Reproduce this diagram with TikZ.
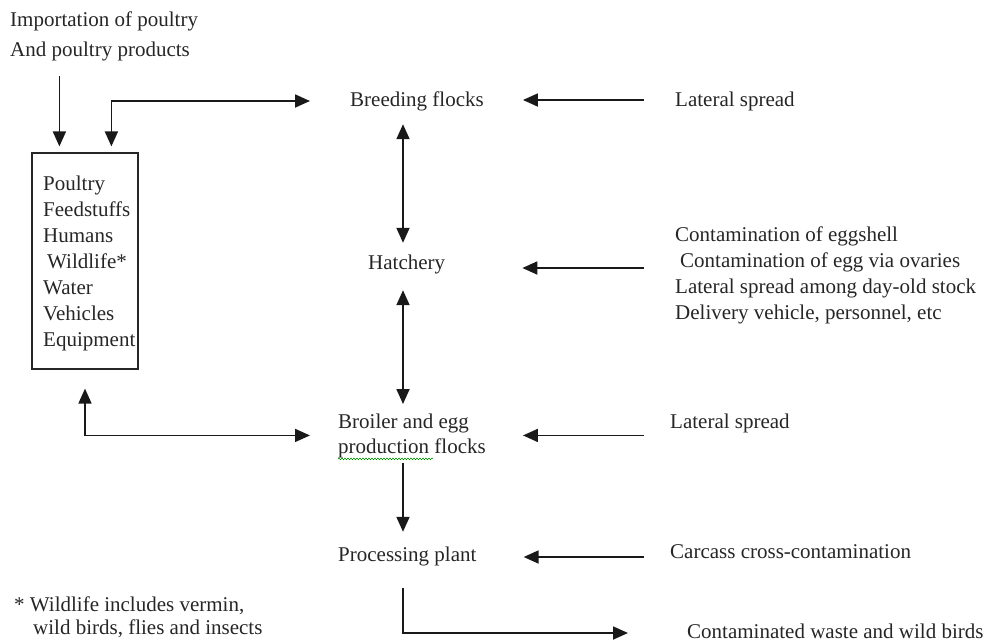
\documentclass[tikz,border=0pt]{standalone}
\usepackage{fontspec}
\setmainfont{Liberation Serif}
\usetikzlibrary{arrows.meta,calc,decorations.pathmorphing}
\newcommand{\firststrut}{\rule{0pt}{15pt}}
\begin{document}
\begin{tikzpicture}[x=1pt,y=-1pt,
  txt/.style={font=\fontsize{21}{26}\selectfont, inner sep=0pt, text height=14pt, text depth=4pt, text=black!85},
  mtxt/.style={font=\fontsize{21}{26}\selectfont, inner sep=0pt, text=black!85, anchor=north west, align=left},
  arr/.style={draw=black!90, line width=1.8pt, -{Triangle[length=15pt,width=13pt]}},
  arrtwo/.style={draw=black!90, line width=1.8pt, {Triangle[length=15pt,width=13pt]}-{Triangle[length=15pt,width=13pt]}},
  framebox/.style={draw=black!85, line width=1.2pt, minimum width=106pt, minimum height=216pt, inner sep=0pt}]
\useasboundingbox (0,0) rectangle (991,643);
% nodes
\node[mtxt, font=\fontsize{21}{30}\selectfont] (imp) at (10,11) {\firststrut Importation of poultry\\And poultry products};
\node[framebox] (box) at (85,261) {};
\node[mtxt] (items) at (43,175) {\firststrut Poultry\\Feedstuffs\\Humans\\\hspace{4pt}Wildlife*\\Water\\Vehicles\\Equipment};
\node[txt, anchor=west] (breed) at (350,101) {Breeding flocks};
\node[txt, anchor=west] (lat1) at (675,101) {Lateral spread};
\node[txt, anchor=west] (hatch) at (368,264) {Hatchery};
\node[mtxt] (contam) at (675,226) {\firststrut Contamination of eggshell\\\hspace{5pt}Contamination of egg via ovaries\\Lateral spread among day-old stock\\Delivery vehicle, personnel, etc};
\node[mtxt, font=\fontsize{21}{25}\selectfont] (broil) at (338,413) {\firststrut Broiler and egg\\production flocks};
\node[txt, anchor=west] (lat2) at (670,423) {Lateral spread};
\node[txt, anchor=west] (proc) at (338,556) {Processing plant};
\node[txt, anchor=west] (carc) at (670,553) {Carcass cross-contamination};
\node[txt, anchor=west] (foot1) at (14,606) {* Wildlife includes vermin,};
\node[txt, anchor=west] (foot2) at (33,629) {wild birds, flies and insects};
\node[txt, anchor=west] (waste) at (687,633) {Contaminated waste and wild birds};
% helper coordinates
\coordinate (c1) at ($(box.north west)+(28,0)$);
\coordinate (c2) at ($(box.north west)+(80,0)$);
\coordinate (v) at ($(breed.west)+(53,0)$);
% connectors
\draw[arr] ($(imp.south -| c1)+(0,15)$) -- ($(c1)+(0,-6)$);
\draw[arrtwo] ($(c2)+(0,-6)$) -- (c2 |- breed.west) -- ($(breed.west)+(-40,0)$);
\draw[arr] ($(lat1.west)+(-31,-1)$) -- ($(breed.east)+(39,-1)$);
\draw[arrtwo] ($(v |- breed.south)+(0,14)$) -- ($(v |- hatch.north)+(0,-12)$);
\draw[arr] ($(contam.west |- hatch.east)+(-31,4)$) -- ($(hatch.east)+(77,4)$);
\draw[arrtwo] ($(v |- hatch.south)+(0,17)$) -- ($(v |- broil.north)+(0,-9)$);
\draw[arrtwo] ($(box.south)+(0,19)$) -- (box.south |- broil.west) -- ($(broil.west)+(-28,0)$);
\draw[arr] ($(lat2.west |- broil.east)+(-26,0)$) -- ($(broil.east)+(37,0)$);
\draw[arr] ($(v |- broil.south)+(0,5)$) -- ($(v |- proc.north)+(0,-15)$);
\draw[arr] ($(carc.west |- proc.east)+(-26,1)$) -- ($(proc.east)+(47,1)$);
\draw[arr] ($(v |- proc.south)+(0,23)$) -- (v |- waste.west) -- ($(waste.west)+(-59,0)$);
% spell-check wavy underline
\draw[green!55!black, line width=0.6pt, decorate, decoration={snake, amplitude=0.8pt, segment length=3pt}] ($(broil.south west)+(0,1)$) -- ++(95,0);
\end{tikzpicture}
\end{document}
